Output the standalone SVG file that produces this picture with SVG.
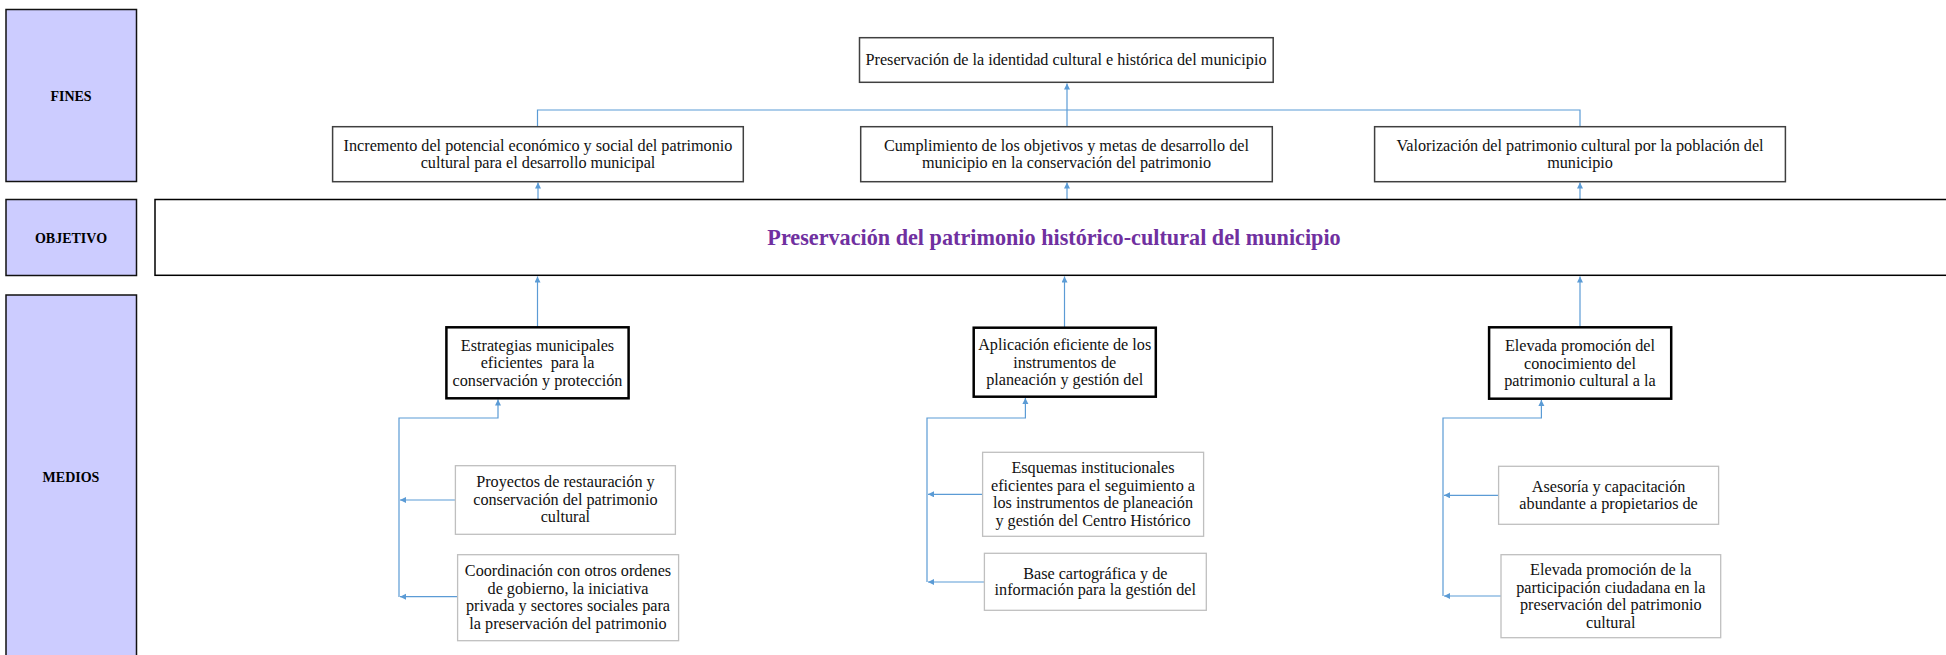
<svg xmlns="http://www.w3.org/2000/svg" width="1946" height="655" viewBox="0 0 1946 655">
<style>
.lbl{fill:#CCCCFF;stroke:#111;stroke-width:1.5}
.lt{font-family:"Liberation Serif",serif;font-weight:bold;font-size:14px;fill:#000;text-anchor:middle}
.fin{fill:#fff;stroke:#404040;stroke-width:1.5}
.main{fill:#fff;stroke:#000;stroke-width:2.5}
.sub{fill:#fff;stroke:#BFBFBF;stroke-width:1.3}
.t{font-family:"Liberation Serif",serif;font-size:16.2px;fill:#111;text-anchor:middle}
.obj{font-family:"Liberation Serif",serif;font-weight:bold;font-size:22.2px;fill:#7030A0;text-anchor:middle}
.c{fill:none;stroke:#5B9BD5;stroke-width:1.2}
.ca{fill:none;stroke:#5B9BD5;stroke-width:1.2;marker-end:url(#ah)}
</style>
<defs>
<marker id="ah" markerUnits="userSpaceOnUse" markerWidth="8" markerHeight="8" refX="6" refY="3" orient="auto">
<path d="M0,0 L6,3 L0,6 z" fill="#5B9BD5"/>
</marker>
</defs>
<rect width="1946" height="655" fill="#fff"/>

<g id="label-fines"><rect class="lbl" x="6" y="9.5" width="130.5" height="172"/><text class="lt" x="71" y="100.5">FINES</text></g>
<g id="label-objetivo"><rect class="lbl" x="6" y="199.5" width="130.5" height="76"/><text class="lt" x="71" y="243">OBJETIVO</text></g>
<g id="label-medios"><rect class="lbl" x="6" y="295" width="130.5" height="380"/><text class="lt" x="71" y="481.5">MEDIOS</text></g>

<g id="connectors">
<path class="c" d="M537.5,126.7 V110 H1580 V126.7"/>
<path class="ca" d="M1067,126.7 V83.5"/>
<path class="ca" d="M538,199 V182.5"/>
<path class="ca" d="M1067,199 V182.5"/>
<path class="ca" d="M1580,199 V182.5"/>
<path class="ca" d="M537.5,327 V276.5"/>
<path class="ca" d="M1064.5,327 V276.5"/>
<path class="ca" d="M1580,327 V276.5"/>
<path class="ca" d="M399,597 V418 H498 V399.5"/>
<path class="ca" d="M455.4,500 H400"/>
<path class="ca" d="M457.6,596.7 H400"/>
<path class="ca" d="M927,582 V418 H1025.4 V398"/>
<path class="ca" d="M982.6,494.3 H928"/>
<path class="ca" d="M984.4,582 H928"/>
<path class="ca" d="M1443,596 V418 H1541.4 V400"/>
<path class="ca" d="M1498.6,495.3 H1444"/>
<path class="ca" d="M1501,596 H1444"/>
</g>

<g id="fin-top"><rect class="fin" x="859.5" y="37.7" width="413.7" height="44.6"/><text class="t" x="1066" y="65">Preservación de la identidad cultural e histórica del municipio</text></g>
<g id="fin-1"><rect class="fin" x="332.6" y="126.7" width="410.7" height="55"/><text class="t" x="538" y="150.5">Incremento del potencial económico y social del patrimonio</text><text class="t" x="538" y="167.5">cultural para el desarrollo municipal</text></g>
<g id="fin-2"><rect class="fin" x="860.7" y="126.7" width="411.6" height="55"/><text class="t" x="1066.5" y="150.5">Cumplimiento de los objetivos y metas de desarrollo del</text><text class="t" x="1066.5" y="167.5">municipio en la conservación del patrimonio</text></g>
<g id="fin-3"><rect class="fin" x="1374.6" y="126.7" width="410.8" height="55"/><text class="t" x="1580" y="150.5">Valorización del patrimonio cultural por la población del</text><text class="t" x="1580" y="168">municipio</text></g>

<g id="objetivo"><rect x="155" y="199.5" width="1800" height="75.8" fill="#fff" stroke="#000" stroke-width="1.5"/><text class="obj" x="1054" y="244.5">Preservación del patrimonio histórico-cultural del municipio</text></g>

<g id="medio-a"><rect class="main" x="446.4" y="327.3" width="182.2" height="71"/><text class="t" x="537.5" y="351">Estrategias municipales</text><text class="t" x="537.5" y="368.3" xml:space="preserve">eficientes  para la</text><text class="t" x="537.5" y="385.6">conservación y protección</text></g>
<g id="medio-b"><rect class="main" x="973.7" y="327.7" width="182.1" height="69"/><text class="t" x="1064.7" y="350.3">Aplicación eficiente de los</text><text class="t" x="1064.7" y="367.6">instrumentos de</text><text class="t" x="1064.7" y="384.6">planeación y gestión del</text></g>
<g id="medio-c"><rect class="main" x="1489.1" y="327.3" width="182.1" height="71.4"/><text class="t" x="1580" y="351.3">Elevada promoción del</text><text class="t" x="1580" y="368.8">conocimiento del</text><text class="t" x="1580" y="386.3">patrimonio cultural a la</text></g>

<g id="sub-a1"><rect class="sub" x="455.4" y="465.7" width="220" height="68.6"/><text class="t" x="565.4" y="487">Proyectos de restauración y</text><text class="t" x="565.4" y="504.6">conservación del patrimonio</text><text class="t" x="565.4" y="522">cultural</text></g>
<g id="sub-a2"><rect class="sub" x="457.6" y="554.7" width="221" height="86"/><text class="t" x="568" y="576.3">Coordinación con otros ordenes</text><text class="t" x="568" y="593.6">de gobierno, la iniciativa</text><text class="t" x="568" y="611.3">privada y sectores sociales para</text><text class="t" x="568" y="628.6">la preservación del patrimonio</text></g>
<g id="sub-b1"><rect class="sub" x="982.6" y="452.3" width="221" height="84"/><text class="t" x="1093" y="473">Esquemas institucionales</text><text class="t" x="1093" y="491">eficientes para el seguimiento a</text><text class="t" x="1093" y="508.3">los instrumentos de planeación</text><text class="t" x="1093" y="525.6">y gestión del Centro Histórico</text></g>
<g id="sub-b2"><rect class="sub" x="984.4" y="553.3" width="221.9" height="57"/><text class="t" x="1095.3" y="578.6">Base cartográfica y de</text><text class="t" x="1095.3" y="595.3">información para la gestión del</text></g>
<g id="sub-c1"><rect class="sub" x="1498.6" y="466.3" width="220" height="58"/><text class="t" x="1608.6" y="492">Asesoría y capacitación</text><text class="t" x="1608.6" y="509">abundante a propietarios de</text></g>
<g id="sub-c2"><rect class="sub" x="1501" y="554.7" width="219.7" height="83"/><text class="t" x="1610.8" y="575">Elevada promoción de la</text><text class="t" x="1610.8" y="592.6">participación ciudadana en la</text><text class="t" x="1610.8" y="610">preservación del patrimonio</text><text class="t" x="1610.8" y="627.6">cultural</text></g>
</svg>
